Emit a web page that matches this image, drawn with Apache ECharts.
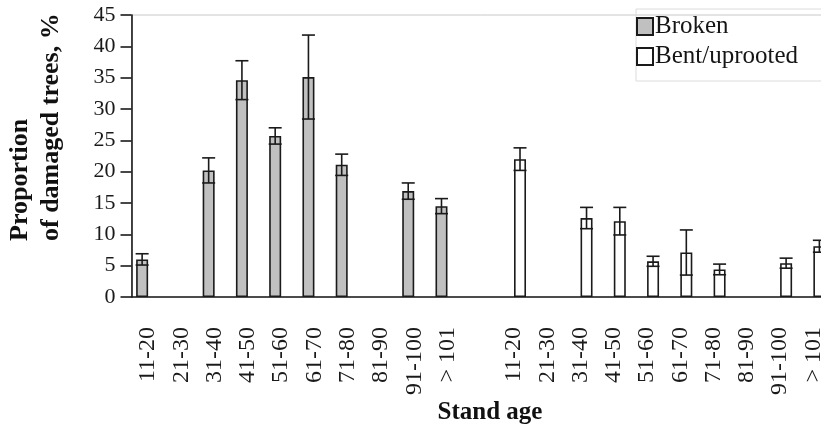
<!DOCTYPE html>
<html style="height: 100%">
<head>
    <meta charset="utf-8">
</head>
<body style="height: 100%; margin: 0; background: #fff; overflow: hidden">
<!-- the plot runs a little past the right edge of the window, as in the original -->
<div id="container" style="width: 830px; height: 432px"></div>
<script type="text/javascript" src="https://cdn.jsdelivr.net/npm/echarts@6/dist/echarts.min.js"></script>
<script type="text/javascript">
// stand age classes, repeated for both damage types with a blank slot between
var ageGroups = ['11-20', '21-30', '31-40', '41-50', '51-60', '61-70', '71-80', '81-90', '91-100', '> 101'];
var categories = ageGroups.concat(['']).concat(ageGroups);

// proportion of damaged trees (%) and error (+/-)
var brokenValues = [6.0, null, 20.2, 34.6, 25.7, 35.1, 21.1, null, 16.9, 14.5];
var brokenErrors = [0.9, null, 2.0, 3.1, 1.3, 6.7, 1.7, null, 1.3, 1.2];
var bentValues = [22.0, null, 12.6, 12.1, 5.7, 7.1, 4.4, null, 5.4, 8.1];
var bentErrors = [1.8, null, 1.7, 2.2, 0.8, 3.6, 0.85, null, 0.8, 0.95];

var FONT = 'Liberation Serif';
var BAR_W = 12;

var empty = function (n) { var a = []; for (var i = 0; i < n; i++) a.push(null); return a; };
var brokenData = brokenValues.concat(empty(11));
var bentData = empty(11).concat(bentValues);

function errData(values, errors, start) {
    var out = [];
    values.forEach(function (v, i) {
        if (v != null) out.push([start + i, v, errors[i]]);
    });
    return out;
}

function errRender(offset) {
    return function (params, api) {
        var x = api.value(0), v = api.value(1), e = api.value(2);
        var hi = api.coord([x, v + e]);
        var lo = api.coord([x, v - e]);
        var cx = hi[0] + offset;
        var half = BAR_W / 2 + 0.5;
        var style = { stroke: '#1a1a1a', lineWidth: 1.6 };
        return {
            type: 'group',
            children: [
                { type: 'line', shape: { x1: cx, y1: hi[1], x2: cx, y2: lo[1] }, style: style },
                { type: 'line', shape: { x1: cx - half, y1: hi[1], x2: cx + half, y2: hi[1] }, style: style },
                { type: 'line', shape: { x1: cx - half, y1: lo[1], x2: cx + half, y2: lo[1] }, style: style }
            ]
        };
    };
}

var myChart = echarts.init(document.getElementById('container'));

var option = {
    animation: false,
    backgroundColor: '#fff',
    textStyle: { fontFamily: FONT },
    grid: {
        left: 131.5, right: 0, top: 15, bottom: 135,
        show: true, borderColor: '#c8c8c8', borderWidth: 1
    },
    legend: {
        orient: 'vertical',
        left: 636, top: 9,
        padding: [5, 30, 12, 0],
        itemWidth: 16, itemHeight: 17, itemGap: 5,
        icon: 'rect',
        borderColor: '#dcdcdc', borderWidth: 1,
        textStyle: { fontFamily: FONT, fontSize: 25, lineHeight: 24, color: '#151515', padding: [0, 0, 0, -3] },
        data: ['Broken', 'Bent/uprooted']
    },
    xAxis: {
        type: 'category',
        data: categories,
        axisLine: { lineStyle: { color: '#1a1a1a', width: 1.6 } },
        axisTick: { length: 8, interval: 0, lineStyle: { color: '#1a1a1a', width: 1.6 } },
        axisLabel: {
            interval: 0, rotate: 90, margin: 30,
            fontFamily: FONT, fontSize: 24, color: '#1a1a1a'
        }
    },
    yAxis: {
        type: 'value',
        min: 0, max: 45, interval: 5,
        splitLine: { show: false },
        axisLine: { show: true, lineStyle: { color: '#1a1a1a', width: 1.6 } },
        axisTick: { show: true, length: 11, lineStyle: { color: '#1a1a1a', width: 1.6 } },
        axisLabel: { margin: 16, fontFamily: FONT, fontSize: 22, color: '#1a1a1a' }
    },
    graphic: [
        {
            type: 'text', x: 5, y: 241, rotation: Math.PI / 2,
            style: {
                text: 'Proportion\nof damaged trees, %',
                font: 'bold 26px "Liberation Serif"',
                fill: '#111', textAlign: 'left', textVerticalAlign: 'top', lineHeight: 31
            }
        },
        {
            type: 'text', x: 490, y: 413,
            style: {
                text: 'Stand age',
                font: 'bold 25px "Liberation Serif"',
                fill: '#111', textAlign: 'center', textVerticalAlign: 'middle'
            }
        }
    ],
    series: [
        {
            name: 'Broken', type: 'bar', data: brokenData,
            barWidth: BAR_W, barGap: '0%',
            itemStyle: { color: '#c0c0c0', borderColor: '#1a1a1a', borderWidth: 1.6 }
        },
        {
            name: 'Bent/uprooted', type: 'bar', data: bentData,
            barWidth: BAR_W, barGap: '0%',
            itemStyle: { color: '#ffffff', borderColor: '#1a1a1a', borderWidth: 1.6 }
        },
        {
            type: 'custom', name: 'brokenErr', z: 5,
            renderItem: errRender(-BAR_W / 2),
            encode: { x: 0, y: [1] },
            data: errData(brokenValues, brokenErrors, 0)
        },
        {
            type: 'custom', name: 'bentErr', z: 5,
            renderItem: errRender(BAR_W / 2),
            encode: { x: 0, y: [1] },
            data: errData(bentValues, bentErrors, 11)
        }
    ]
};

myChart.setOption(option);
</script>
</body>
</html>
